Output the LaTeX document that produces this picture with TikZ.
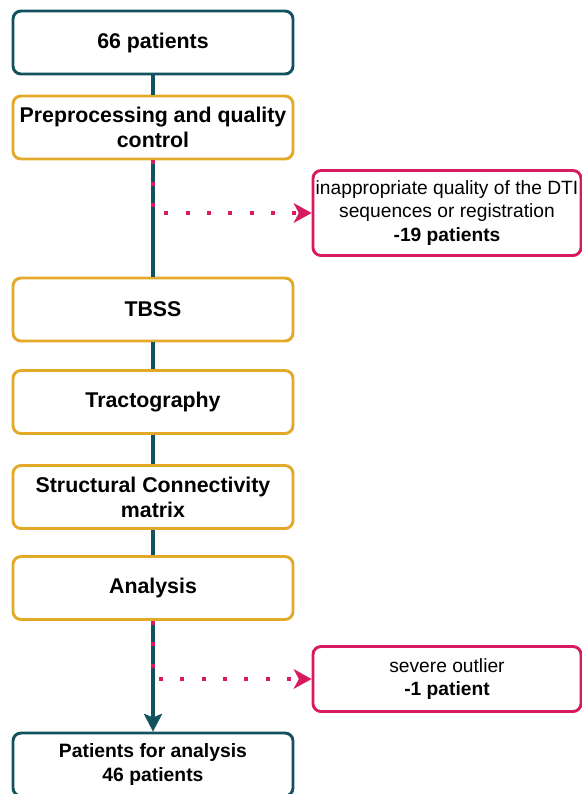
\documentclass[tikz,border=0pt]{standalone}
\usepackage{fontspec}
\setmainfont{Liberation Sans}
\usetikzlibrary{arrows.meta}
\usepackage{xcolor}
\definecolor{flowteal}{RGB}{18,82,94}
\definecolor{flowamber}{RGB}{226,170,40}
\definecolor{flowpink}{RGB}{216,27,96}
\tikzset{
  stepbox/.style={draw=flowamber, line width=2.2pt, rounded corners=6pt, fill=white,
    minimum width=210pt, minimum height=47.25pt, inner sep=0pt, align=center,
    font=\fontsize{16}{18.75}\selectfont\bfseries},
  endbox/.style={stepbox, draw=flowteal},
  dropbox/.style={draw=flowpink, line width=2.2pt, rounded corners=6pt, fill=white,
    minimum width=201pt, inner sep=0pt, align=center,
    font=\fontsize{14.4}{17.6}\selectfont},
  mainline/.style={draw=flowteal, line width=2.8pt},
  dropline/.style={draw=flowpink, line width=3pt, dash pattern=on 3pt off 13pt,
    -{Stealth[length=13.5pt, width=15pt, inset=4pt, line width=0.5pt]}}
}
\begin{document}
\begin{tikzpicture}[x=0.75pt, y=-0.75pt]
  \useasboundingbox (0,0) rectangle (582,794);
  \clip (0,0) rectangle (582,794);
  % Flow of patients
  \node[endbox] (patients) at (153,42.5) {66 patients};
  \node[stepbox] (preproc) at (153,127.5) {Preprocessing and quality\\control};
  \node[stepbox] (tbss) at (153,309.5) {TBSS};
  \node[stepbox] (tracto) at (153,402) {Tractography};
  \node[stepbox] (connmat) at (153,497) {Structural Connectivity\\matrix};
  \node[stepbox] (analysis) at (153,588) {Analysis};
  \node[endbox, font=\fontsize{14.5}{18}\selectfont\bfseries] (final) at (153,764.5)
    {Patients for analysis\\46 patients};

  % Excluded patients
  \node[dropbox, minimum height=63.75pt] (qualityout) at (447,213)
    {inappropriate quality of the DTI\\sequences or registration\\\textbf{-19 patients}};
  \node[dropbox, minimum height=48.75pt] (outlier) at (447,679)
    {severe outlier\\\textbf{-1 patient}};

  \draw[mainline] (patients) -- (preproc);
  \draw[mainline] (preproc) -- (tbss);
  \draw[mainline] (tbss) -- (tracto);
  \draw[mainline] (tracto) -- (connmat);
  \draw[mainline] (connmat) -- (analysis);
  \draw[mainline, -{Stealth[length=13.5pt, width=14pt, inset=3pt, line width=0.5pt]}] (analysis) -- (final);

  \draw[dropline] (preproc.south) |- (qualityout.west);
  \draw[dropline] (analysis.south) |- (outlier.west);
\end{tikzpicture}
\end{document}
